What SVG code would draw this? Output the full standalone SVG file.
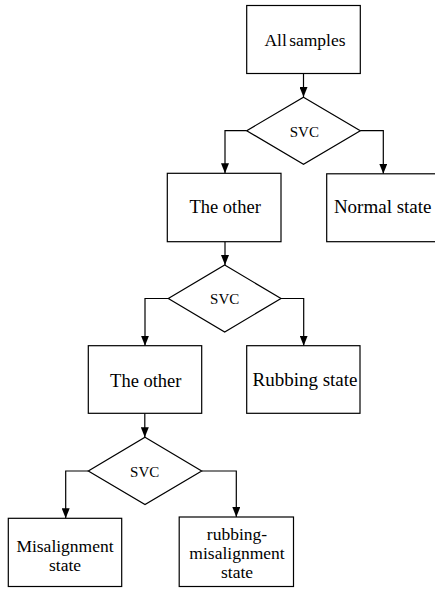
<svg xmlns="http://www.w3.org/2000/svg" width="435" height="589" viewBox="0 0 435 589">
<defs>
<marker id="arr" markerUnits="userSpaceOnUse" markerWidth="10" markerHeight="8" refX="10" refY="4" orient="auto">
<path d="M0,0 L10,4 L0,8 z" fill="#000"/>
</marker>
<style>
.box{fill:#fff;stroke:#000;stroke-width:1.2}
.t{font-family:"Liberation Serif","Times New Roman",serif;fill:#000;text-anchor:middle}
.big{font-size:18.5px}
.sm{font-size:17.5px}
.svc{font-size:15px}
.c{fill:none;stroke:#000;stroke-width:1.2;marker-end:url(#arr)}
</style>
</defs>
<rect width="435" height="589" fill="#fff"/>
<g id="connectors">
<path class="c" d="M303.5,73.5 V97"/>
<path class="c" d="M246.7,130.7 H225 V173.3"/>
<path class="c" d="M360.3,130.7 H383.3 V173.8"/>
<path class="c" d="M225,241.7 V265"/>
<path class="c" d="M168.3,298.5 H145 V345.7"/>
<path class="c" d="M281,298.5 H303.7 V345.7"/>
<path class="c" d="M144.8,413.3 V437.3"/>
<path class="c" d="M88.3,471 H65.7 V518.3"/>
<path class="c" d="M201.7,471 H236.3 V517"/>
</g>
<g id="all-samples">
<rect class="box" x="246.7" y="5.5" width="113.6" height="68"/>
<text class="t sm" x="305" y="46" word-spacing="-2">All samples</text>
</g>
<g id="svc1">
<polygon class="box" points="303.5,97.2 360.3,130.7 303.5,164.2 246.7,130.7"/>
<text class="t svc" x="304.3" y="136.5">SVC</text>
</g>
<g id="other1">
<rect class="box" x="167.3" y="173.3" width="113.7" height="68.4"/>
<text class="t big" x="225.2" y="213">The other</text>
</g>
<g id="normal">
<rect class="box" x="326.7" y="173.8" width="113.6" height="67.9"/>
<text class="t" font-size="19" x="382.7" y="213">Normal state</text>
</g>
<g id="svc2">
<polygon class="box" points="224.7,265 281,298.5 224.7,332 168.3,298.5"/>
<text class="t svc" x="224.7" y="303.5">SVC</text>
</g>
<g id="other2">
<rect class="box" x="88.3" y="345.7" width="113.4" height="67.6"/>
<text class="t big" x="145.8" y="386.5">The other</text>
</g>
<g id="rubbing">
<rect class="box" x="246.7" y="345.7" width="113.3" height="67.6"/>
<text class="t" font-size="19" x="305" y="386">Rubbing state</text>
</g>
<g id="svc3">
<polygon class="box" points="145,437.3 201.7,471 145,504.5 88.3,471"/>
<text class="t svc" x="144.7" y="476.5">SVC</text>
</g>
<g id="misalignment">
<rect class="box" x="8.3" y="518.3" width="113.4" height="68.2"/>
<text class="t sm" x="65" y="551.5">Misalignment</text>
<text class="t sm" x="65" y="570.5">state</text>
</g>
<g id="rubbing-misalignment">
<rect class="box" x="179.2" y="517" width="114.3" height="69.5"/>
<text class="t sm" x="237" y="539.5">rubbing-</text>
<text class="t sm" x="237" y="558.5">misalignment</text>
<text class="t sm" x="237" y="577.5">state</text>
</g>
</svg>
